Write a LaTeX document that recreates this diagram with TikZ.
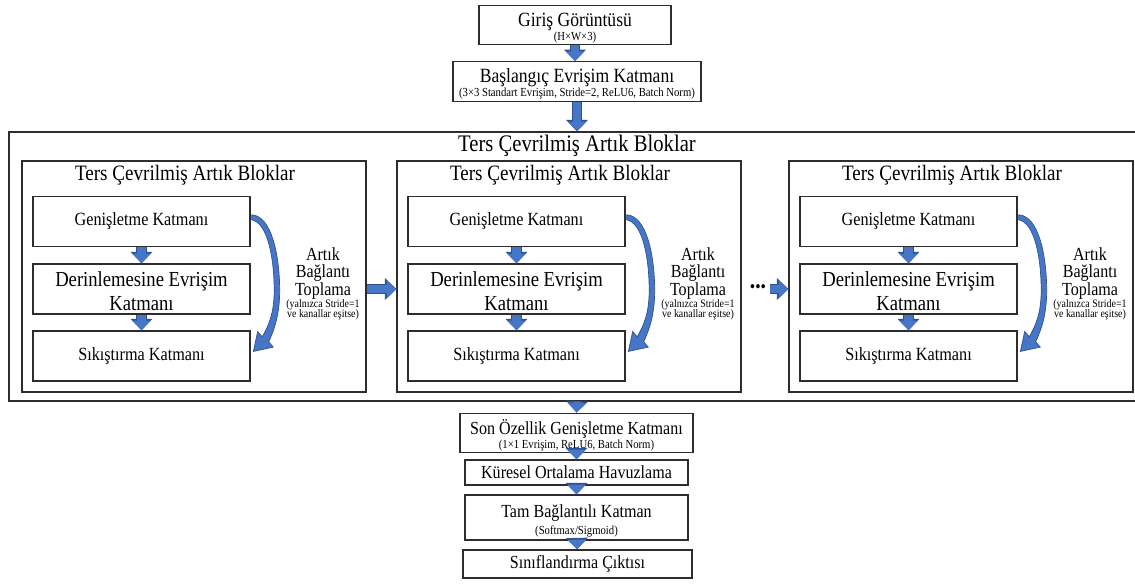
\documentclass[tikz,border=0pt]{standalone}
\usepackage{fontspec}
\setmainfont{Liberation Serif}[FakeStretch=0.87]
\usepackage{xcolor}
\usetikzlibrary{arrows.meta, positioning, calc}
\definecolor{ArrowBlue}{RGB}{72,118,198}
\definecolor{ArrowEdge}{RGB}{47,82,143}
\definecolor{LineGray}{RGB}{45,45,45}
\newcommand{\subnote}[1]{{\fontsize{7}{8}\selectfont #1}}
\newcommand{\tinynote}[1]{{\fontsize{6.5}{7}\selectfont #1}}
\newcommand{\topstrut}{\rule{0pt}{11pt}}
% freccia curva del collegamento residuo
\newcommand{\resarrow}[1]{%
  \filldraw[fill=ArrowBlue, draw=ArrowEdge, line width=0.4pt, shift={(#1.north east)}]
    (1,19) .. controls (21,20) and (29,60) .. (29,95)
    .. controls (29,118) and (24,133) .. (18,146) -- (22.6,151.3) -- (2.7,155.6)
    -- (7,135.7) -- (11.5,141) .. controls (18,130) and (23.5,117) .. (23.5,95)
    .. controls (23.5,62) and (17,27) .. (1,24) -- cycle;}
\tikzset{
  % Riquadri
  box/.style={draw=LineGray, line width=0.8pt, inner sep=1pt, align=center},
  stage/.style={box, font=\fontsize{11.5}{12}\selectfont},
  endstage/.style={box, font=\fontsize{10.5}{12}\selectfont},
  layer/.style={box, minimum width=4.34cm, minimum height=1cm, font=\fontsize{10.6}{13.5}\selectfont},
  block/.style={draw=LineGray, line width=0.8pt, minimum width=6.88cm, minimum height=4.62cm},
  frame/.style={draw=LineGray, line width=0.8pt, minimum width=22.72cm, minimum height=5.38cm},
  % Testi
  blocktitle/.style={font=\fontsize{12.5}{14}\selectfont, inner sep=0pt},
  frametitle/.style={font=\fontsize{13.5}{15}\selectfont, inner sep=0pt},
  sidenote/.style={align=center, inner sep=0pt, font=\fontsize{10.5}{9.5}\selectfont},
  % Frecce
  flow/.style={preaction={draw=ArrowEdge, line width=5.8pt, -{Triangle[width=12pt,length=6.5pt]}},
    line width=4.6pt, ArrowBlue, -{Triangle[width=10.5pt,length=5.5pt]}}
}

\begin{document}
\begin{tikzpicture}[x=0.02cm, y=-0.02cm]
  \useasboundingbox (0,0) rectangle (1135,583);
  \node[stage, minimum width=3.84cm, minimum height=0.72cm] (input) at (575,25)
    {\topstrut Giriş Görüntüsü\\[-4pt]\subnote{(H×W×3)}};
  \node[stage, minimum width=4.96cm, minimum height=0.74cm] (stem) at (577,81.5)
    {\topstrut Başlangıç Evrişim Katmanı\\[-4pt]\subnote{(3×3 Standart Evrişim, Stride=2, ReLU6, Batch Norm)}};
  \node[frame] (outer) at (577,266.5) {};
  \node[frametitle] (otitle) at (577,146) {Ters Çevrilmiş Artık Bloklar};
  \draw[flow] (input) -- (input |- stem.north);
  \draw[flow] (stem) -- (outer.north);

  \foreach \n/\bx in {1/22, 2/397, 3/789} {
    \node[block] (blk\n) at (\bx+172,276.5) {};
    \node[blocktitle] (title\n) at (\bx+163,175) {Ters Çevrilmiş Artık Bloklar};
    \node[layer] (gen\n) at (\bx+119.5,221.5) {Genişletme Katmanı};
    \node[layer, font=\fontsize{12.2}{13.8}\selectfont] (der\n) at (\bx+119.5,289)
      {\topstrut Derinlemesine Evrişim\\Katmanı};
    \node[layer] (sik\n) at (\bx+119.5,356) {Sıkıştırma Katmanı};
    \node[sidenote] (res\n) at (\bx+301,284)
      {Artık\\Bağlantı\\Toplama\\[-3pt]\tinynote{(yalnızca Stride=1}\\[-3.5pt]\tinynote{ve kanallar eşitse)}};
    \draw[flow] (gen\n) -- (der\n);
    \draw[flow] (der\n) -- (sik\n);
    \resarrow{gen\n}
  }

  \draw[flow] (blk1.east |- der1.east) -- (blk2.west |- der1.east);
  \node[inner sep=2pt, font=\fontsize{10}{10}\selectfont] (dots) at (758,289) {\textbullet\textbullet\textbullet};
  \draw[flow] (dots.east) -- (blk3.west |- dots.east);

  \node[endstage, minimum width=4.66cm, minimum height=0.68cm] (head) at (576.5,433)
    {\topstrut Son Özellik Genişletme Katmanı\\[-4pt]\subnote{(1×1 Evrişim, ReLU6, Batch Norm)}};
  \node[endstage, minimum width=4.46cm, minimum height=0.5cm] (pool) at (576.5,472.5)
    {Küresel Ortalama Havuzlama};
  \node[endstage, minimum width=4.46cm, minimum height=0.9cm] (fc) at (576.5,517.5)
    {\topstrut Tam Bağlantılı Katman\\[-2pt]\subnote{(Softmax/Sigmoid)}};
  \node[endstage, minimum width=4.58cm, minimum height=0.56cm] (out) at (577.5,564)
    {Sınıflandırma Çıktısı};
  \draw[flow] (outer.south) -- (head.north);
  \draw[flow] (head) -- (pool);
  \draw[flow] (pool) -- (fc);
  \draw[flow] (fc) -- (out);
\end{tikzpicture}
\end{document}
